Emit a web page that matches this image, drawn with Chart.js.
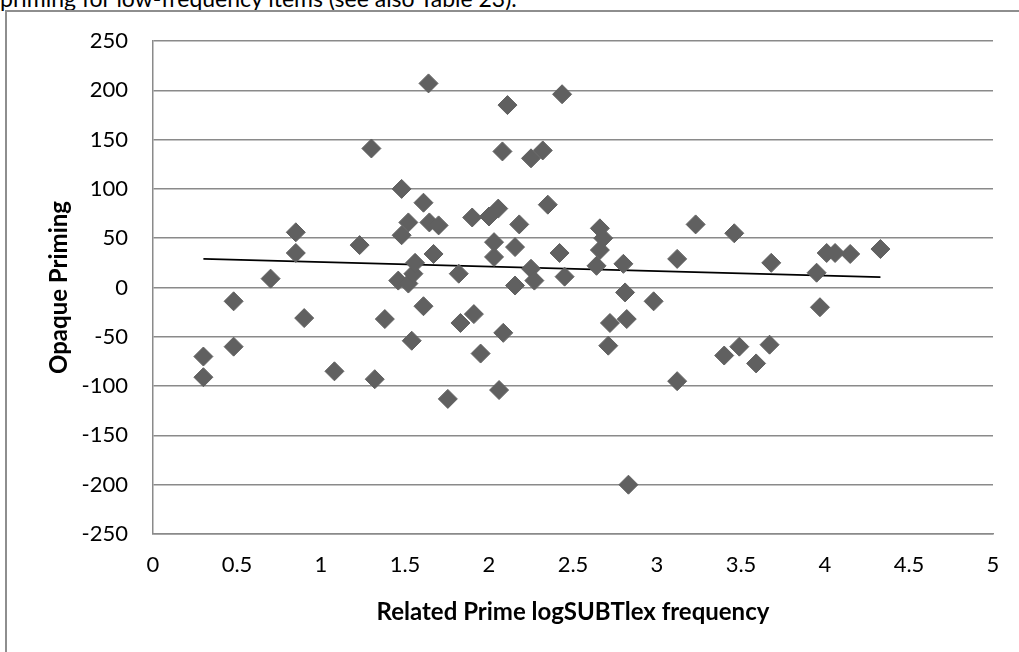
<!DOCTYPE html>
<html>
<head>
<meta charset="utf-8">
<script src="https://cdn.jsdelivr.net/npm/chart.js@4/dist/chart.umd.min.js"></script>
<style>
  html, body { margin: 0; padding: 0; background: #fff; overflow: hidden; }
  #wrap { position: relative; width: 1019px; height: 652px; }
  #caption {
    position: absolute; left: 0; top: -13px;
    font-family: Lato, sans-serif; font-size: 23px; line-height: 23px;
    color: #000; white-space: nowrap;
  }
  #frame {
    position: absolute; left: 5px; top: 10px; width: 2000px; height: 2000px;
    border: 2px solid #8e8e8e; box-sizing: border-box;
  }
  #chart { position: absolute; left: 0; top: 0; }
</style>
</head>
<body>
<div id="wrap">
  <div id="caption">priming for low-frequency items (see also Table 23).</div>
  <div id="frame"></div>
  <canvas id="chart" width="1019" height="652"></canvas>
</div>
<script>
// log frequency of the related prime
const freq = [
  0.30, 0.30, 0.48, 0.48, 0.70, 0.85, 0.85, 0.90, 1.08, 1.23,
  1.30, 1.32, 1.38, 1.46, 1.48, 1.48, 1.52, 1.52, 1.54, 1.55,
  1.56, 1.61, 1.61, 1.64, 1.645, 1.67, 1.70, 1.755, 1.82, 1.83,
  1.90, 1.91, 1.95, 2.00, 2.03, 2.03, 2.055, 2.06, 2.08, 2.085,
  2.11, 2.155, 2.155, 2.18, 2.25, 2.25, 2.27, 2.32, 2.35, 2.42,
  2.435, 2.45, 2.64, 2.66, 2.66, 2.68, 2.71, 2.72, 2.80, 2.81,
  2.82, 2.83, 2.98, 3.12, 3.12, 3.23, 3.40, 3.46, 3.49, 3.59,
  3.67, 3.68, 3.95, 3.97, 4.01, 4.06, 4.15, 4.33
];
// opaque priming effect (ms)
const priming = [
  -70, -91, -14, -60, 9, 56, 35, -31, -85, 43,
  141, -93, -32, 7, 100, 53, 66, 4, -54, 14,
  25, 86, -19, 207, 66, 34, 63, -113, 14, -36,
  71, -27, -67, 72, 46, 31, 80, -104, 138, -46,
  185, 41, 2, 64, 131, 19, 7, 139, 84, 35,
  196, 11, 22, 60, 38, 50, -59, -36, 24, -5,
  -32, -200, -14, 29, -95, 64, -69, 55, -60, -77,
  -58, 25, 15, -20, 35, 35, 34, 39
];
// linear trend line ends
const trendX = [0.30, 4.33];
const trendY = [29, 10.5];

const xTicks = [0, 0.5, 1, 1.5, 2, 2.5, 3, 3.5, 4, 4.5, 5];
const yTicks = [-250, -200, -150, -100, -50, 0, 50, 100, 150, 200, 250];

const points = freq.map((f, i) => ({ x: f, y: priming[i] }));
const trend = trendX.map((t, i) => ({ x: t, y: trendY[i] }));

const tickFont = { family: "Lato", size: 22 };
const titleFont = { family: "Lato", size: 24, weight: "bold" };
const gridColor = "#8a8a8a";

const ctx = document.getElementById("chart").getContext("2d");
new Chart(ctx, {
  type: "scatter",
  data: {
    datasets: [
      {
        label: "Opaque Priming",
        data: points,
        pointStyle: "rectRot",
        pointRadius: 9.5,
        pointHoverRadius: 9.5,
        backgroundColor: "#606060",
        borderColor: "#606060",
        borderWidth: 1,
      },
      {
        label: "Linear",
        type: "line",
        data: trend,
        showLine: true,
        borderColor: "#000",
        borderWidth: 1.6,
        pointRadius: 0,
        fill: false,
      },
    ],
  },
  options: {
    responsive: false,
    animation: false,
    layout: { padding: { left: 0, right: 26, top: 41, bottom: 0 } },
    plugins: {
      legend: { display: false },
      tooltip: { enabled: false },
    },
    scales: {
      x: {
        type: "linear",
        min: 0,
        max: 5,
        afterBuildTicks: (scale) => {
          scale.ticks = xTicks.map((v) => ({ value: v }));
        },
        afterFit: (scale) => {
          scale.height = 118;
        },
        grid: { display: false, drawTicks: false },
        border: { display: true, color: gridColor, width: 1.5 },
        ticks: {
          font: tickFont,
          color: "#000",
          padding: 18,
          maxRotation: 0,
          callback: (v) => String(v),
        },
        title: {
          display: true,
          text: "Related Prime logSUBTlex frequency",
          font: titleFont,
          color: "#000",
          padding: { top: 0, bottom: 25 },
        },
      },
      y: {
        type: "linear",
        min: -250,
        max: 250,
        afterBuildTicks: (scale) => {
          scale.ticks = yTicks.map((v) => ({ value: v }));
        },
        afterFit: (scale) => {
          scale.width = 153;
        },
        grid: { color: gridColor, lineWidth: 1.5, drawTicks: false },
        border: { display: true, color: gridColor, width: 1.5 },
        ticks: { font: tickFont, color: "#000", padding: 25 },
        title: {
          display: true,
          text: "Opaque Priming",
          font: titleFont,
          color: "#000",
          padding: { top: 45, bottom: 0 },
        },
      },
    },
  },
});
</script>
</body>
</html>
